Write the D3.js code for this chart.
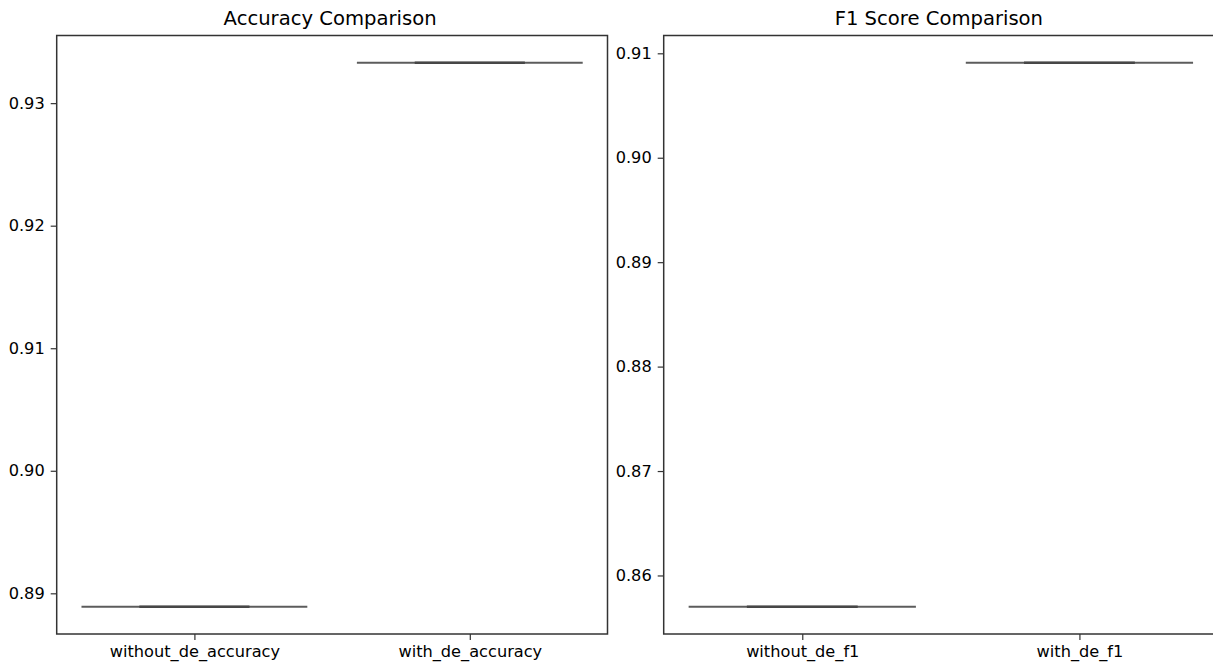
<!DOCTYPE html>
<html><head><meta charset="utf-8">
<script src="https://cdn.jsdelivr.net/npm/d3@7"></script>
<style>body{margin:0;background:#fff}svg{display:block}text{font-family:"DejaVu Sans",sans-serif;fill:#000}</style>
</head><body>
<svg id="c" width="1213" height="664"></svg>
<script>
const accCategories = ["without_de_accuracy", "with_de_accuracy"];
const accValues = [0.8889, 0.9333];
const accTicks = [0.89, 0.90, 0.91, 0.92, 0.93];
const f1Categories = ["without_de_f1", "with_de_f1"];
const f1Values = [0.8570, 0.9091];
const f1Ticks = [0.86, 0.87, 0.88, 0.89, 0.90, 0.91];
const titles = ["Accuracy Comparison", "F1 Score Comparison"];

(function(){
const svg = d3.select("#c");
const panels = [
  {title: titles[0], cats: accCategories, vals: accValues, ticks: accTicks, x0: 56.7, x1: 607.5},
  {title: titles[1], cats: f1Categories, vals: f1Values, ticks: f1Ticks, x0: 663.7, x1: 1218}
];
const yTop = 35.5, yBot = 634;

panels.forEach(p => {
  const lo = d3.min(p.vals), hi = d3.max(p.vals), m = (hi - lo) * 0.05;
  const y = d3.scaleLinear().domain([lo - m, hi + m]).range([yBot, yTop]);
  const x = d3.scaleLinear().domain([-0.5, 1.5]).range([p.x0, p.x1]);
  const g = svg.append("g");
  p.vals.forEach((v, i) => {
    g.append("line").attr("x1", x(i - 0.41)).attr("x2", x(i + 0.41))
      .attr("y1", y(v)).attr("y2", y(v)).attr("stroke", "#5c5c5c").attr("stroke-width", 2);
    g.append("line").attr("x1", x(i - 0.2)).attr("x2", x(i + 0.2))
      .attr("y1", y(v)).attr("y2", y(v)).attr("stroke", "#474747").attr("stroke-width", 2.5);
  });
  const ya = d3.axisLeft(y).tickValues(p.ticks).tickFormat(d3.format(".2f")).tickSize(6).tickPadding(6);
  const xa = d3.axisBottom(x).tickValues([0, 1]).tickFormat((d) => p.cats[d]).tickSize(6).tickPadding(5);
  const gy = g.append("g").attr("transform", `translate(${p.x0},0)`).call(ya);
  const gx = g.append("g").attr("transform", `translate(0,${yBot})`).call(xa);
  [gx, gy].forEach(a => {
    a.select(".domain").remove();
    a.selectAll("line").attr("stroke", "#333").attr("stroke-width", 1.2);
    a.selectAll("text").style("font-size", "16.2px").attr("fill", "#000");
  });
  g.append("rect").attr("x", p.x0).attr("y", yTop).attr("width", p.x1 - p.x0).attr("height", yBot - yTop)
    .attr("fill", "none").attr("stroke", "#333").attr("stroke-width", 1.5);
  g.append("text").attr("x", (p.x0 + p.x1) / 2 - 2).attr("y", 25)
    .attr("text-anchor", "middle").style("font-size", "19.6px").text(p.title);
});
})();
</script>
</body></html>
